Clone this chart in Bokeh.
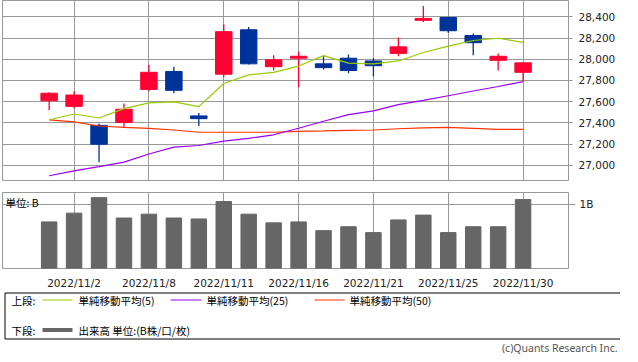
from bokeh.plotting import figure
from bokeh.layouts import column
from bokeh.models import Range1d, FixedTicker, NumeralTickFormatter, PrintfTickFormatter
from bokeh.core.properties import value
from bokeh.embed import file_html
from bokeh.resources import INLINE

# ---------------- data ----------------
dates = ["2022/11/1", "2022/11/2", "2022/11/4", "2022/11/7", "2022/11/8",
         "2022/11/9", "2022/11/10", "2022/11/11", "2022/11/14", "2022/11/15",
         "2022/11/16", "2022/11/17", "2022/11/18", "2022/11/21", "2022/11/22",
         "2022/11/24", "2022/11/25", "2022/11/28", "2022/11/29", "2022/11/30"]
open_ = [27609, 27556, 27377, 27404, 27716, 27885, 27466, 27859, 28278, 27930,
         28010, 27957, 28010, 27984, 28055, 28367, 28394, 28224, 27990, 27877]
high = [27689, 27698, 27395, 27582, 27948, 27930, 27493, 28331, 28305, 28037,
        28073, 28034, 28046, 28010, 28206, 28501, 28400, 28242, 28055, 27966]
low = [27520, 27538, 27029, 27357, 27698, 27680, 27371, 27832, 27950, 27894,
       27737, 27903, 27868, 27841, 28028, 28352, 28251, 28037, 27894, 27794]
close = [27680, 27663, 27199, 27529, 27877, 27707, 27440, 28260, 27957, 27995,
         28028, 27921, 27894, 27939, 28117, 28385, 28269, 28156, 28028, 27966]
ma5 = [27430, 27484, 27446, 27535, 27589, 27598, 27553, 27772, 27853, 27877,
       27936, 28034, 27963, 27957, 27984, 28064, 28124, 28177, 28198, 28159]
ma25 = [26902, 26947, 26988, 27030, 27107, 27172, 27187, 27228, 27255, 27288,
        27350, 27416, 27478, 27514, 27573, 27612, 27656, 27701, 27743, 27790]
ma50 = [27428, 27410, 27371, 27357, 27348, 27333, 27312, 27312, 27312, 27312,
        27321, 27324, 27330, 27333, 27345, 27353, 27357, 27348, 27339, 27339]
volume_b = [0.727, 0.864, 1.106, 0.788, 0.848, 0.788, 0.773, 1.045, 0.848, 0.712,
            0.727, 0.591, 0.652, 0.561, 0.758, 0.833, 0.561, 0.652, 0.652, 1.076]
x_tick_idx = [1, 4, 7, 10, 13, 16, 19]
price_ticks = [27000, 27200, 27400, 27600, 27800, 28000, 28200, 28400]
vol_ticks = [1]

# ---------------- styles ----------------
UP = "#FF0033"
DOWN = "#003399"
C_MA5 = "#99CC00"
C_MA25 = "#9900FF"
C_MA50 = "#FF3300"
C_VOL = "#666666"
GRID = "#999999"
NUM_FONT = "DejaVu Sans"
JP_FONT = "Noto Sans CJK JP"

idx = list(range(len(dates)))
colors = [UP if c >= o else DOWN for o, c in zip(open_, close)]
body_top = [max(o, c) for o, c in zip(open_, close)]
body_bot = [min(o, c) for o, c in zip(open_, close)]

x_range = Range1d(-1.87, 20.82)

# ---------------- price panel ----------------
p1 = figure(frame_width=566, frame_height=180, x_range=x_range,
            y_range=Range1d(26857, 28554), y_axis_location="right",
            x_axis_location=None, toolbar_location=None, output_backend="svg",
            title=None, min_border_left=2, min_border_top=0,
            min_border_bottom=12, min_border_right=52)
p1.outline_line_color = GRID
p1.xgrid.ticker = FixedTicker(ticks=x_tick_idx)
p1.ygrid.ticker = FixedTicker(ticks=price_ticks)
p1.grid.grid_line_color = GRID
p1.grid.grid_line_width = 1
ya = p1.yaxis[0]
ya.ticker = FixedTicker(ticks=price_ticks)
ya.formatter = NumeralTickFormatter(format="0,0")
ya.axis_line_color = None
ya.major_tick_in = 0
ya.major_tick_out = 4
ya.major_tick_line_color = GRID
ya.minor_tick_line_color = None
ya.major_label_standoff = 6
ya.major_label_text_font = NUM_FONT
ya.major_label_text_font_size = "10.5px"
ya.major_label_text_color = "#222222"

p1.segment(x0=idx, y0=high, x1=idx, y1=low, line_color=colors, line_width=1.3)
p1.vbar(x=idx, width=0.66, top=body_top, bottom=body_bot,
        fill_color=colors, line_color=colors)
p1.line(idx, ma50, line_color=C_MA50, line_width=1.2)
p1.line(idx, ma25, line_color=C_MA25, line_width=1.2)
p1.line(idx, ma5, line_color=C_MA5, line_width=1.2)

# ---------------- volume panel ----------------
p2 = figure(frame_width=566, frame_height=76, x_range=x_range,
            y_range=Range1d(0, 1.186), y_axis_location="right",
            toolbar_location=None, output_backend="svg", title=None,
            min_border_left=2, min_border_top=0, min_border_bottom=15,
            min_border_right=52)
p2.outline_line_color = GRID
p2.xgrid.ticker = FixedTicker(ticks=x_tick_idx)
p2.ygrid.ticker = FixedTicker(ticks=vol_ticks)
p2.grid.grid_line_color = GRID
y2 = p2.yaxis[0]
y2.ticker = FixedTicker(ticks=vol_ticks)
y2.formatter = PrintfTickFormatter(format="%dB")
y2.axis_line_color = None
y2.major_tick_in = 0
y2.major_tick_out = 7
y2.major_tick_line_color = GRID
y2.minor_tick_line_color = None
y2.major_label_standoff = 4
y2.major_label_text_font = NUM_FONT
y2.major_label_text_font_size = "10.5px"
y2.major_label_text_color = "#222222"
x2 = p2.xaxis[0]
x2.ticker = FixedTicker(ticks=x_tick_idx)
x2.major_label_overrides = {i: dates[i] for i in x_tick_idx}
x2.axis_line_color = None
x2.major_tick_line_color = None
x2.minor_tick_line_color = None
x2.major_label_standoff = 2
x2.major_label_text_font = NUM_FONT
x2.major_label_text_font_size = "10.5px"
x2.major_label_text_color = "#222222"

p2.vbar(x=idx, width=0.62, top=volume_b, bottom=0, fill_color=C_VOL, line_color=C_VOL)
p2.text(x=[x_range.start], y=[1.186], text=["単位: B"], x_offset=3, y_offset=2,
        text_baseline="top", text_align="left", text_font=value(JP_FONT),
        text_font_size="10.5px", text_color="#000000")

# ---------------- legend panel ----------------
LW, LH = 620, 63
p3 = figure(frame_width=LW, frame_height=LH, x_range=Range1d(0, LW),
            y_range=Range1d(LH, 0), x_axis_location=None, y_axis_location=None,
            toolbar_location=None, output_backend="svg", title=None,
            min_border_left=0, min_border_right=0, min_border_top=0,
            min_border_bottom=0)
p3.grid.visible = False
p3.outline_line_color = None
p3.quad(left=[2.5], right=[619.5], top=[1.5], bottom=[47.5], fill_color=None,
        line_color="#000000", line_width=1)
row1, row2 = 8.5, 38.5
p3.segment(x0=[40, 168, 312], y0=[row1] * 3, x1=[70, 199, 342], y1=[row1] * 3,
           line_color=[C_MA5, C_MA25, C_MA50], line_width=1.2)
p3.segment(x0=[40], y0=[row2], x1=[70], y1=[row2], line_color=C_VOL, line_width=4)
p3.text(x=[9, 76, 204, 347, 9, 76],
        y=[row1, row1, row1, row1, row2, row2],
        text=["上段:", "単純移動平均(5)", "単純移動平均(25)", "単純移動平均(50)",
              "下段:", "出来高 単位:(B株/口/枚)"],
        text_baseline="middle", text_align="left", text_font=value(JP_FONT),
        text_font_size="10.5px", text_color="#000000")
p3.text(x=[615], y=[56], text=["(c)Quants Research Inc."], text_baseline="middle",
        text_align="right", text_font=value("Noto Sans"), text_font_size="10.5px",
        text_color="#555555")

layout = column(p1, p2, p3, spacing=0)
open("out.html", "w").write(file_html(layout, INLINE))
